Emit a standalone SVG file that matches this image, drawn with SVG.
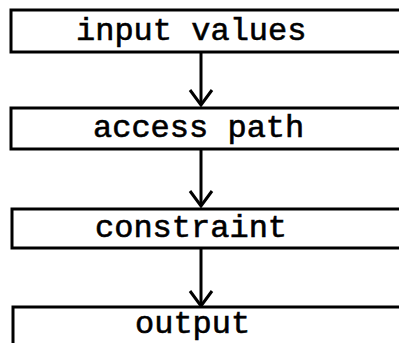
<svg xmlns="http://www.w3.org/2000/svg" width="399" height="343" viewBox="0 0 399 343">
  <defs>
    <style>
      .box { fill: #fff; stroke: #000; stroke-width: 3; }
      .lbl { font-family: "Liberation Mono", "Courier New", monospace; font-size: 32px; fill: #000; stroke: #000; stroke-width: 0.6; }
      .wire { fill: none; stroke: #000; stroke-width: 3; }
      .head { fill: none; stroke: #000; stroke-width: 3; stroke-linejoin: miter; }
    </style>
  </defs>
  <rect width="399" height="343" fill="#fff"/>

  <g id="connectors">
    <line class="wire" x1="201" y1="52" x2="201" y2="105"/>
    <polyline class="head" points="190,90 201,105 212,90"/>
    <line class="wire" x1="201" y1="149" x2="201" y2="206"/>
    <polyline class="head" points="190,191 201,206 212,191"/>
    <line class="wire" x1="201" y1="248" x2="201" y2="306"/>
    <polyline class="head" points="190,291 201,306 212,291"/>
  </g>

  <g id="input-values">
    <rect class="box" x="11" y="10" width="400" height="42"/>
    <text class="lbl" x="76" y="40">input values</text>
  </g>

  <g id="access-path">
    <rect class="box" x="11" y="108" width="400" height="41"/>
    <text class="lbl" x="93" y="137">access path</text>
  </g>

  <g id="constraint">
    <rect class="box" x="12" y="209" width="400" height="39"/>
    <text class="lbl" x="95" y="237">constraint</text>
  </g>

  <g id="output">
    <rect class="box" x="13" y="307" width="400" height="40"/>
    <text class="lbl" x="135" y="333">output</text>
  </g>
</svg>
